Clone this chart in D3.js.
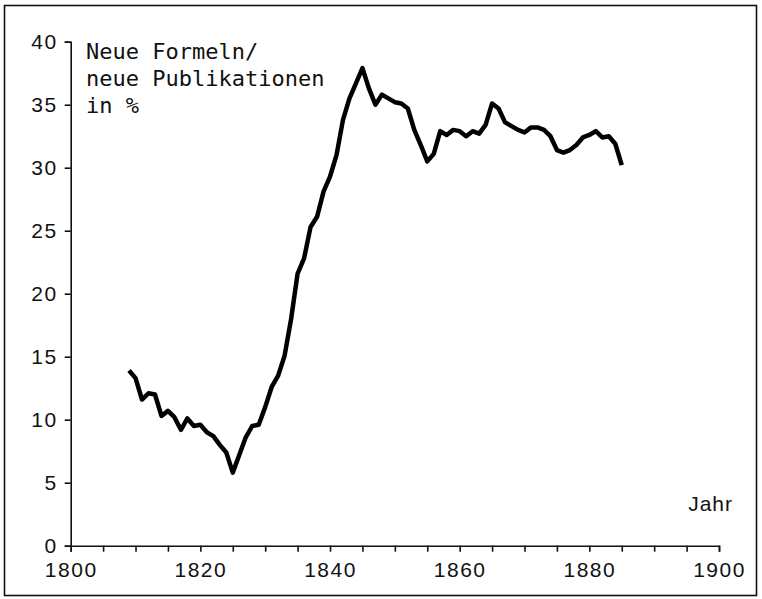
<!DOCTYPE html>
<html>
<head>
<meta charset="utf-8">
<script src="https://cdn.jsdelivr.net/npm/d3@7"></script>
<style>
  body { margin: 0; background: #fff; }
  svg { display: block; }
</style>
</head>
<body>
<div id="chart"></div>
<script>
// data (share of new formulas among new publications, %)
const years = d3.range(1809, 1886);
const values = [
  13.9, 13.3, 11.6, 12.1, 12.0, 10.3, 10.7, 10.2, 9.2, 10.1,
  9.5, 9.6, 9.0, 8.7, 8.0, 7.4, 5.8, 7.2, 8.6, 9.5,
  9.6, 11.0, 12.6, 13.5, 15.1, 18.0, 21.6, 22.8, 25.3, 26.1,
  28.1, 29.3, 31.0, 33.8, 35.5, 36.7, 37.9, 36.3, 35.0, 35.8,
  35.5, 35.2, 35.1, 34.7, 33.0, 31.8, 30.5, 31.1, 32.9, 32.6,
  33.0, 32.9, 32.5, 32.9, 32.7, 33.4, 35.1, 34.7, 33.6, 33.3,
  33.0, 32.8, 33.2, 33.2, 33.0, 32.5, 31.4, 31.2, 31.4, 31.8,
  32.4, 32.6, 32.9, 32.4, 32.5, 31.9, 30.2
];
const xTicks = d3.range(1800, 1901, 5);
const xLabels = [1800, 1820, 1840, 1860, 1880, 1900];
const yTicks = d3.range(0, 41, 5);
const titleLines = ["Neue Formeln/", "neue Publikationen", "in %"];

const width = 762, height = 599;

const svg = d3.select("#chart")
  .append("svg")
  .attr("width", width)
  .attr("height", height);

// frame around the whole figure
svg.append("rect")
  .attr("x", 4.5).attr("y", 5.5)
  .attr("width", 752).attr("height", 590)
  .attr("fill", "none")
  .attr("stroke", "#111")
  .attr("stroke-width", 1.6);

const x = d3.scaleLinear().domain([1800, 1900]).range([70.7, 719]);
const y = d3.scaleLinear().domain([0, 40]).range([545.7, 41.7]);

const xAxis = d3.axisBottom(x)
  .tickValues(xTicks)
  .tickSize(6)
  .tickPadding(10)
  .tickFormat(d => xLabels.includes(d) ? d : "");

const yAxis = d3.axisLeft(y)
  .tickValues(yTicks)
  .tickSize(6)
  .tickPadding(7)
  .tickFormat(d3.format("d"));

const gx = svg.append("g")
  .attr("transform", `translate(0,${y(0)})`)
  .call(xAxis);

const gy = svg.append("g")
  .attr("transform", `translate(${x(1800)},0)`)
  .call(yAxis);

[gx, gy].forEach(g => {
  g.select(".domain").attr("stroke", "#111").attr("stroke-width", 1.6);
  g.selectAll(".tick line").attr("stroke", "#111").attr("stroke-width", 1.6);
  g.selectAll(".tick text")
    .attr("fill", "#111")
    .style("font-family", "'Liberation Sans', Arial, sans-serif")
    .style("font-size", "21px")
    .style("letter-spacing", "1.5px");
});
gx.selectAll(".tick text").attr("dy", "0.71em");

// the data line
const line = d3.line()
  .x((d, i) => x(years[i]))
  .y(d => y(d));

svg.append("path")
  .datum(values)
  .attr("d", line)
  .attr("fill", "none")
  .attr("stroke", "#000")
  .attr("stroke-width", 4.5)
  .attr("stroke-linejoin", "round");

// y axis title
svg.append("text")
  .attr("x", 86)
  .attr("y", 59)
  .attr("fill", "#111")
  .style("font-family", "'DejaVu Sans Mono', monospace")
  .style("font-size", "22px")
  .selectAll("tspan")
  .data(titleLines)
  .enter().append("tspan")
  .attr("x", 86)
  .attr("dy", (d, i) => i === 0 ? 0 : 27)
  .text(d => d);

// x axis title
svg.append("text")
  .attr("x", 733)
  .attr("y", 511)
  .attr("text-anchor", "end")
  .attr("fill", "#111")
  .style("font-family", "'Liberation Sans', Arial, sans-serif")
  .style("font-size", "21px")
  .style("letter-spacing", "1px")
  .text("Jahr");
</script>
</body>
</html>
